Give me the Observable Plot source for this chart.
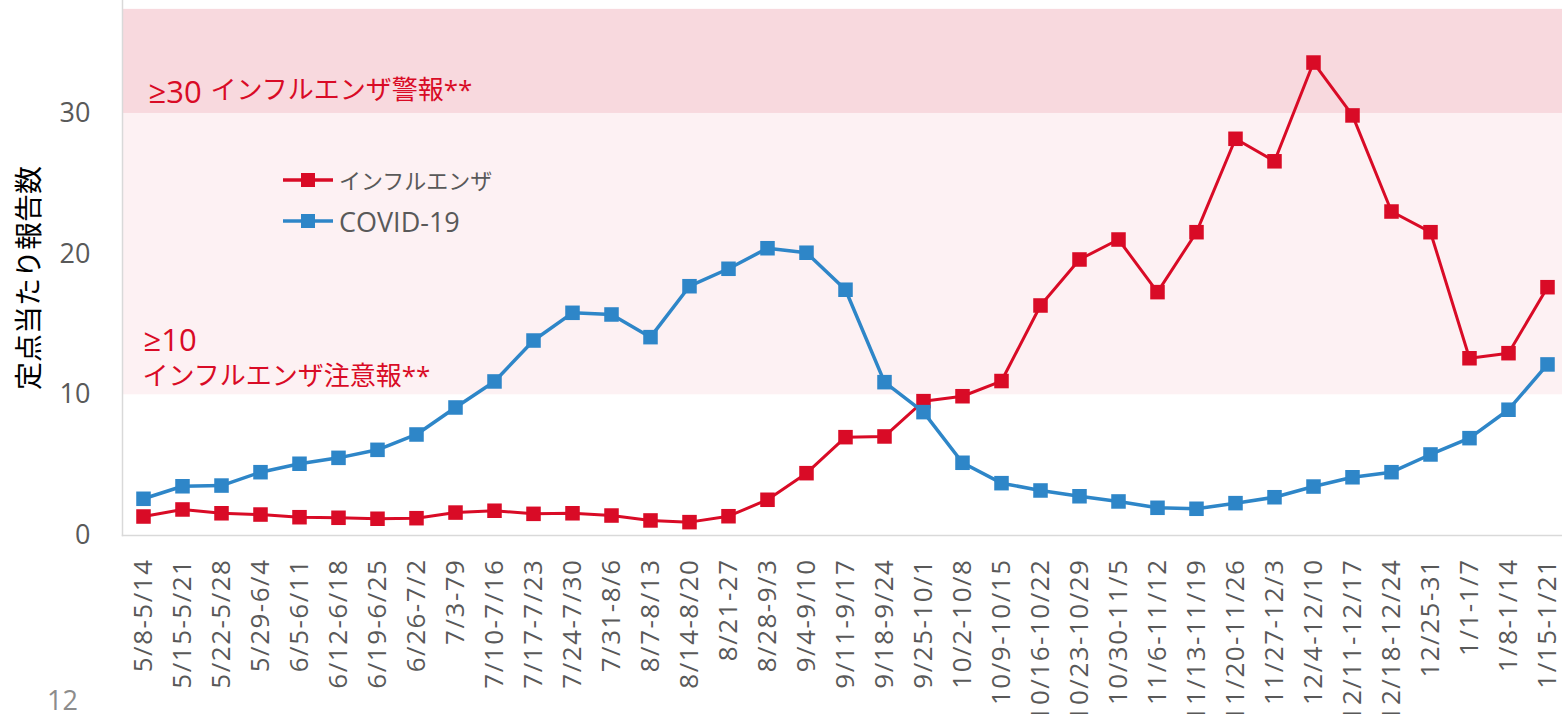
<!DOCTYPE html>
<html><head><meta charset="utf-8">
<script src="https://cdn.jsdelivr.net/npm/d3@7"></script>
<script src="https://cdn.jsdelivr.net/npm/@observablehq/plot@0.6"></script>
<style>
html,body{margin:0;padding:0;background:#fff;}
#wrap{position:relative;width:1562px;height:714px;overflow:hidden;}
.lg{position:absolute;display:flex;align-items:center;font-family:"Segoe UI","Open Sans","Noto Sans CJK JP",sans-serif;color:#595959;line-height:1;}
.lg svg{margin-right:6px;}
#page{position:absolute;left:47px;top:686px;line-height:1;font-family:"Open Sans","Noto Sans",sans-serif;font-size:27px;color:#8c8c8c;}
g[aria-label="x-axis tick label"] text{letter-spacing:1.5px;}
</style></head>
<body><div id="wrap"></div>
<script>
const weeks = ["5/8-5/14","5/15-5/21","5/22-5/28","5/29-6/4","6/5-6/11","6/12-6/18","6/19-6/25","6/26-7/2","7/3-79","7/10-7/16","7/17-7/23","7/24-7/30","7/31-8/6","8/7-8/13","8/14-8/20","8/21-27","8/28-9/3","9/4-9/10","9/11-9/17","9/18-9/24","9/25-10/1","10/2-10/8","10/9-10/15","10/16-10/22","10/23-10/29","10/30-11/5","11/6-11/12","11/13-11/19","11/20-11/26","11/27-12/3","12/4-12/10","12/11-12/17","12/18-12/24","12/25-31","1/1-1/7","1/8-1/14","1/15-1/21"];
const influenza = [1.35,1.85,1.58,1.49,1.30,1.26,1.19,1.23,1.63,1.76,1.54,1.58,1.42,1.07,0.95,1.37,2.54,4.43,6.99,7.04,9.55,9.90,10.98,16.35,19.62,21.04,17.30,21.56,28.2,26.6,33.62,29.86,23.03,21.56,12.60,12.96,17.65];
const covid = [2.61,3.50,3.55,4.50,5.10,5.52,6.09,7.18,9.10,10.95,13.86,15.83,15.71,14.10,17.72,18.96,20.42,20.10,17.47,10.90,8.77,5.17,3.72,3.20,2.79,2.42,1.97,1.90,2.30,2.72,3.48,4.14,4.50,5.76,6.92,8.94,12.16];
const yTicks = [0,10,20,30];
const yMax = 38.03;
const bandTop = 37.4;
const bands = [{y1:10,y2:30,fill:"#fdf1f3"},{y1:30,y2:bandTop,fill:"#f8d9de"}];
const seriesNames = ["インフルエンザ","COVID-19"];
const colors = ["#d90b26","#2e86c8"];
const yLabel = "定点当たり報告数";
const alertNum = "≥30";
const alertText = "インフルエンザ警報**";
const warnNum = "≥10";
const warnText = "インフルエンザ注意報**";
const pageNo = "12";

const fluData = weeks.map((w,i)=>({week:w,value:influenza[i]}));
const covData = weeks.map((w,i)=>({week:w,value:covid[i]}));
const font = "'Segoe UI','Open Sans','Noto Sans CJK JP',sans-serif";

const chart = Plot.plot({
  width:1562, height:714,
  marginLeft:122, marginRight:0, marginTop:0, marginBottom:179,
  style:{fontFamily:font, color:"#595959", background:"#fff"},
  x:{type:"point", domain:weeks, range:[141.5,1547.5], padding:0, label:null},
  y:{domain:[0,yMax], label:null},
  marks:[
    Plot.rect(bands,{y1:"y1",y2:"y2",fill:"fill"}),
    Plot.frame({anchor:"left",stroke:"#d9d9d9",strokeWidth:1.5}),
    Plot.frame({anchor:"bottom",stroke:"#d9d9d9",strokeWidth:1.5}),
    Plot.axisY({ticks:yTicks, tickSize:0, tickPadding:32, fontSize:27, label:null, fill:"#595959"}),
    Plot.axisX({tickRotate:-90, tickSize:0, tickPadding:23, fontSize:26, label:null, fill:"#595959"}),
    Plot.text([yLabel],{frameAnchor:"left", dx:-92, dy:10, rotate:-90, textAnchor:"middle", fontSize:28, fill:"#000", fontFamily:"'Noto Sans CJK JP',sans-serif"}),
    Plot.text([alertNum],{frameAnchor:"top-left", dx:26, dy:80, textAnchor:"start", fontSize:31, fill:colors[0]}),
    Plot.text([alertText],{frameAnchor:"top-left", dx:88, dy:80, textAnchor:"start", fontSize:26, fill:colors[0]}),
    Plot.text([warnNum],{frameAnchor:"top-left", dx:21, dy:328, textAnchor:"start", fontSize:31, fill:colors[0]}),
    Plot.text([warnText],{frameAnchor:"top-left", dx:20, dy:366, textAnchor:"start", fontSize:26, fill:colors[0]}),
    Plot.line(fluData,{x:"week",y:"value",stroke:colors[0],strokeWidth:3}),
    Plot.dot(fluData,{x:"week",y:"value",symbol:"square",r:8.2,fill:colors[0]}),
    Plot.line(covData,{x:"week",y:"value",stroke:colors[1],strokeWidth:3.5}),
    Plot.dot(covData,{x:"week",y:"value",symbol:"square",r:8.2,fill:colors[1]})
  ]
});
const wrap = document.getElementById("wrap");
wrap.appendChild(chart);

const legendTops = [166,207];
const legendSizes = [22,27];
seriesNames.forEach((name,i)=>{
  const d = document.createElement("div");
  d.className = "lg";
  d.style.left = "283px";
  d.style.top = legendTops[i]+"px";
  d.style.fontSize = legendSizes[i]+"px";
  d.innerHTML = `<svg width="50" height="28"><line x1="0" x2="50" y1="14" y2="14" stroke="${colors[i]}" stroke-width="3.5"/><rect x="18" y="7" width="14" height="14" fill="${colors[i]}"/></svg><span>${name}</span>`;
  wrap.appendChild(d);
});
const p = document.createElement("div");
p.id = "page"; p.textContent = pageNo;
wrap.appendChild(p);
</script>
</body></html>
